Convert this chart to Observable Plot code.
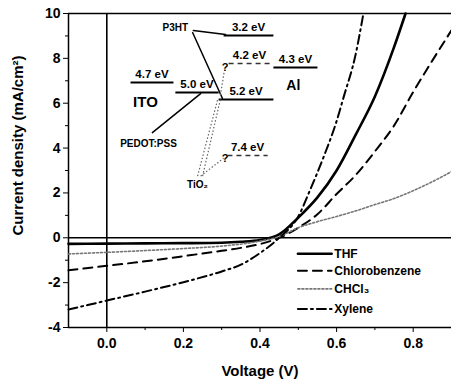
<!DOCTYPE html>
<html><head><meta charset="utf-8">
<script src="https://cdn.jsdelivr.net/npm/d3@7"></script>
<script src="https://cdn.jsdelivr.net/npm/@observablehq/plot@0.6"></script>
<style>body{margin:0;background:#fff} svg{display:block}</style>
</head><body><div id="chart"></div>
<script>
// ---- J–V curves (Voltage V, current density mA/cm²) ----
const thfV = [-0.1, 0, 0.1, 0.2, 0.3, 0.35, 0.4, 0.45, 0.5, 0.55, 0.6, 0.65, 0.7, 0.75, 0.78];
const thfJ = [-0.27, -0.26, -0.25, -0.24, -0.22, -0.18, -0.1, 0.15, 0.9, 1.8, 3.0, 4.6, 6.3, 8.5, 10];
const cbV = [-0.1, 0, 0.1, 0.2, 0.3, 0.35, 0.4, 0.45, 0.5, 0.55, 0.6, 0.65, 0.7, 0.75, 0.8, 0.85, 0.9];
const cbJ = [-1.45, -1.25, -1.05, -0.82, -0.58, -0.45, -0.28, 0.0, 0.45, 1.05, 1.95, 2.8, 3.85, 5.0, 6.5, 7.9, 9.25];
const chV = [-0.1, 0, 0.1, 0.2, 0.3, 0.4, 0.45, 0.5, 0.55, 0.6, 0.65, 0.7, 0.75, 0.8, 0.85, 0.9];
const chJ = [-0.72, -0.65, -0.57, -0.48, -0.37, -0.15, 0.05, 0.45, 0.72, 0.95, 1.2, 1.48, 1.75, 2.1, 2.5, 2.95];
const xyV = [-0.1, -0.05, 0, 0.1, 0.2, 0.3, 0.35, 0.4, 0.45, 0.5, 0.53, 0.566, 0.6, 0.618, 0.65, 0.67];
const xyJ = [-3.2, -3.0, -2.8, -2.4, -1.98, -1.5, -1.2, -0.68, 0.0, 0.95, 2.1, 3.6, 5.2, 6.25, 8.2, 10];

const seriesNames = ["THF", "Chlorobenzene", "CHCl₃", "Xylene"];
const xTicks = [0, 0.2, 0.4, 0.6, 0.8];
const xMinor = [0.1, 0.3, 0.5, 0.7, 0.9];
const yTicks = [-4, -2, 0, 2, 4, 6, 8, 10];
const yMinor = [-3, -1, 1, 3, 5, 7, 9];

// ---- legend placement (data units) ----
const legendJ = [-0.71, -1.47, -2.28, -3.17];
const legendV1 = 0.499, legendV2 = 0.587, legendVText = 0.594;

// ---- inset energy diagram (data units) ----
const levelLabel = ["3.2 eV", "4.2 eV", "4.3 eV", "4.7 eV", "5.0 eV", "5.2 eV", "7.4 eV"];
const levelV1 = [0.305, 0.318, 0.435, 0.062, 0.179, 0.292, 0.315];
const levelV2 = [0.435, 0.427, 0.55, 0.174, 0.292, 0.435, 0.42];
const levelJ = [9.02, 7.77, 7.59, 6.92, 6.48, 6.17, 3.67];
const levelDashed = [false, true, false, false, false, false, true];
const materialLabel = ["P3HT", "ITO", "Al", "PEDOT:PSS", "TiO₂"];
const materialV = [0.179, 0.101, 0.487, 0.109, 0.237];
const materialJ = [9.38, 6.03, 6.79, 4.2, 2.38];
const materialSize = [10, 15, 14, 10, 10];
const qV = [0.309, 0.309];
const qJ = [7.6, 3.55];

const rows = (name, V, J) => V.map((v, i) => ({name, v, j: J[i]}));
const styles = {
  "THF": {stroke: "#000", strokeWidth: 2.6},
  "Chlorobenzene": {stroke: "#000", strokeWidth: 2, strokeDasharray: "9,6"},
  "CHCl₃": {stroke: "#777", strokeWidth: 1.6, strokeDasharray: "2,2"},
  "Xylene": {stroke: "#000", strokeWidth: 2, strokeDasharray: "9,4,2,4"}
};
const curveData = [rows("THF", thfV, thfJ), rows("Chlorobenzene", cbV, cbJ), rows("CHCl₃", chV, chJ), rows("Xylene", xyV, xyJ)];

const levels = levelLabel.map((t, i) => ({t, v1: levelV1[i], v2: levelV2[i], j: levelJ[i], d: levelDashed[i]}));
const mats = materialLabel.map((t, i) => ({t, v: materialV[i], j: materialJ[i], s: materialSize[i]}));

const marks = [
  Plot.ruleY([-4, 10], {stroke: "#000", strokeWidth: 1.5}),
  Plot.ruleX([-0.1], {stroke: "#000", strokeWidth: 1.5}),
  Plot.ruleY([0], {stroke: "#000", strokeWidth: 1.6}),
  Plot.ruleX([0], {stroke: "#000", strokeWidth: 1.6}),
  Plot.axisY({ticks: yTicks, tickSize: 5, tickPadding: 3, tickFormat: d => String(d), fontSize: 14, label: null}),
  Plot.axisY({ticks: yMinor, tickSize: 3, text: null, label: null}),
  Plot.axisX({ticks: xTicks, tickSize: 5, tickPadding: 6, tickFormat: d3.format(".1f"), fontSize: 14, label: null}),
  Plot.axisX({ticks: xMinor, tickSize: 3, text: null, label: null}),
  Plot.text(["Current density (mA/cm²)"], {frameAnchor: "left", textAnchor: "middle", rotate: -90, dx: -50, dy: -25, fontSize: 15, fontWeight: "bold"}),
  Plot.text(["Voltage (V)"], {frameAnchor: "bottom", dy: 48, fontSize: 15, fontWeight: "bold"}),
];
curveData.forEach((d, i) => {
  marks.push(Plot.line(d, {x: "v", y: "j", curve: "monotone-x", ...styles[seriesNames[i]]}));
  marks.push(Plot.line([{v: legendV1, j: legendJ[i]}, {v: legendV2, j: legendJ[i]}], {x: "v", y: "j", ...styles[seriesNames[i]]}));
});
marks.push(Plot.text(seriesNames, {x: () => legendVText, y: (d, i) => legendJ[i], text: d => d, textAnchor: "start", fontSize: 12, fontWeight: "bold"}));

// inset
marks.push(Plot.link(levels.filter(d => !d.d), {x1: "v1", x2: "v2", y1: "j", y2: "j", stroke: "#000", strokeWidth: 2}));
marks.push(Plot.link(levels.filter(d => d.d), {x1: "v1", x2: "v2", y1: "j", y2: "j", stroke: "#333", strokeWidth: 1.5, strokeDasharray: "5,4"}));
marks.push(Plot.text(levels, {x: d => (d.v1 + d.v2) / 2, y: "j", text: "t", dy: -8, fontSize: 11.5, fontWeight: "bold"}));
marks.push(Plot.text(mats, {x: "v", y: "j", text: "t", fontSize: d => d.s, fontWeight: "bold"}));
marks.push(Plot.text(qV, {x: d => d, y: (d, i) => qJ[i], text: () => "?", fontSize: 11, fontWeight: "bold"}));
// arrows / connectors
const arrowsSolid = [
  {x1: 0.226, y1: 9.24, x2: 0.31, y2: 9.06, bend: -15},
  {x1: 0.224, y1: 9.15, x2: 0.302, y2: 6.21, bend: 0},
  {x1: 0.119, y1: 4.69, x2: 0.245, y2: 6.43, bend: 20}
];
marks.push(Plot.arrow(arrowsSolid, {x1: "x1", y1: "y1", x2: "x2", y2: "y2", bend: d => d.bend, stroke: "#000", strokeWidth: 1.5, headLength: 6}));
const dotted = [
  {x1: 0.237, y1: 2.75, x2: 0.29, y2: 6.2},
  {x1: 0.25, y1: 2.75, x2: 0.297, y2: 6.2},
  {x1: 0.245, y1: 2.75, x2: 0.305, y2: 3.55},
  {x1: 0.306, y1: 7.35, x2: 0.296, y2: 6.3}
];
marks.push(Plot.link(dotted, {x1: "x1", y1: "y1", x2: "x2", y2: "y2", stroke: "#666", strokeWidth: 1.2, strokeDasharray: "1.5,2"}));

const chart = Plot.plot({
  width: 451, height: 389,
  marginLeft: 68, marginRight: 0, marginTop: 13, marginBottom: 62,
  x: {domain: [-0.1, 0.9]},
  y: {domain: [-4, 10]},
  style: {fontFamily: "'Liberation Sans', Arial, sans-serif", fontWeight: "bold", color: "#000", background: "#fff"},
  marks
});
document.getElementById("chart").append(chart);
</script></body></html>
